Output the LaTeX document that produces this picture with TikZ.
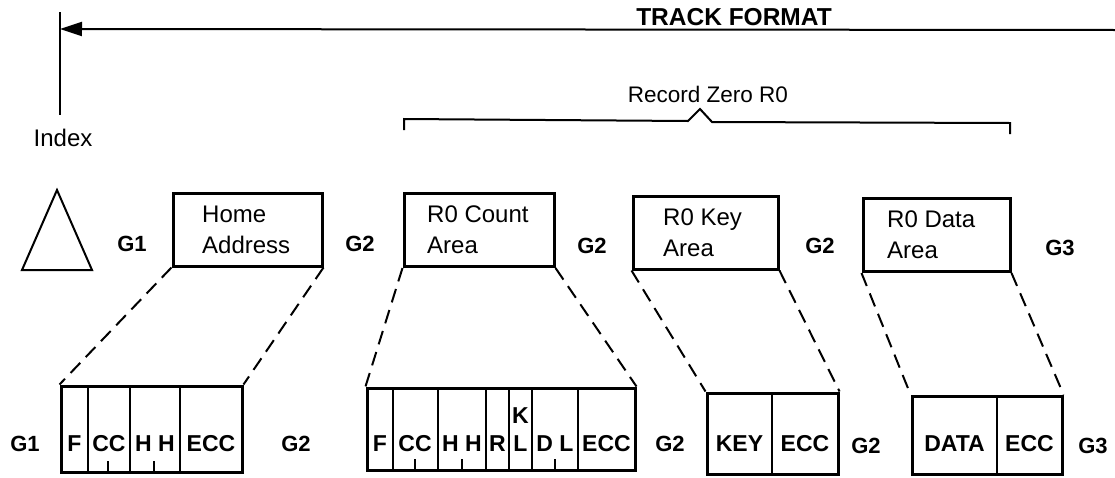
\documentclass[tikz,border=0pt]{standalone}
\usepackage{fontspec}
\setmainfont{Liberation Sans}
\usetikzlibrary{arrows.meta}
\begin{document}
\begin{tikzpicture}[x=1pt,y=-1pt,
  topbox/.style={draw,line width=3pt,minimum height=73pt,inner sep=0pt},
  fieldbox/.style={draw,line width=3pt,inner sep=0pt},
  conn/.style={line width=2pt,dash pattern=on 14pt off 8pt},
  divline/.style={line width=1.8pt},
  tick/.style={line width=1.8pt},
  boxtxt/.style={anchor=west,align=left,inner sep=0pt,font=\fontsize{24}{31}\selectfont},
  glab/.style={anchor=base,inner sep=0pt,font=\bfseries\fontsize{22}{24}\selectfont},
  flab/.style={anchor=base,inner sep=0pt,font=\bfseries\fontsize{23}{24}\selectfont},
]
\useasboundingbox (0,0) rectangle (1115,477);

% index and track format
\coordinate (idxTop) at (60,12);
\coordinate (idxBot) at (60,115);
\coordinate (idxArr) at (60,29);
\coordinate (trackR) at (1116,30);
\draw[line width=2pt] (idxTop) -- (idxBot);
\draw[line width=2pt,-{Triangle[length=22pt,width=14pt]}] (trackR) -- (idxArr);
\node[anchor=base,inner sep=0pt,font=\bfseries\fontsize{24.5}{26}\selectfont] (title) at (734,25) {TRACK FORMAT};
\node[inner sep=0pt,font=\fontsize{24}{26}\selectfont] (index) at (63,138) {Index};

% brace
\node[anchor=base,inner sep=0pt,font=\fontsize{22.5}{24}\selectfont] (rec) at (708,102) {Record Zero R0};
\draw[line width=2pt] (404,130) -- (404,119) -- (688,121) -- (700,109) -- (712,122) -- (1010,123) -- (1010,134);

% index marker
\draw[line width=2pt] (57,190) -- (92,270) -- (22,270) -- cycle;

% top row
\node[glab] (g1t) at (132,251) {G1};
\node[topbox,minimum width=149pt] (ha) at (247.5,229.5) {};
\node[boxtxt] (hat) at (202,229.5) {Home\\Address};
\node[glab] (g2a) at (360,251) {G2};
\node[topbox,minimum width=150pt] (cnt) at (479,230) {};
\node[boxtxt] (cntt) at (427,230) {R0 Count\\Area};
\node[glab] (g2b) at (592,253) {G2};
\node[topbox,minimum width=145pt] (key) at (705.5,232.5) {};
\node[boxtxt] (keyt) at (663,232.5) {R0 Key\\Area};
\node[glab] (g2c) at (820,253) {G2};
\node[topbox,minimum width=147pt] (dat) at (936.5,235) {};
\node[boxtxt] (datt) at (887,235) {R0 Data\\Area};
\node[glab] (g3t) at (1060,255) {G3};

% bottom row: home address fields
\node[glab] (g1b) at (25,451) {G1};
\node[fieldbox,minimum width=181pt,minimum height=86pt] (haf) at (151.5,429) {};
\draw[divline] (88,386) -- (88,472);
\draw[divline] (130,386) -- (130,472);
\draw[divline] (180,386) -- (180,472);
\node[flab] (hf1) at (74.5,451) {F};
\node[flab] (hf2) at (109,451) {CC};
\node[flab] (hf3) at (155,451) {H H};
\node[flab] (hf4) at (211,451) {ECC};
\draw[tick] (108,472) -- (108,461);
\draw[tick] (154,472) -- (154,461);
\node[glab] (g2d) at (296,451) {G2};

% count fields
\node[fieldbox,minimum width=268pt,minimum height=82pt] (cf) at (501,429) {};
\draw[divline] (393,388) -- (393,470);
\draw[divline] (438,388) -- (438,470);
\draw[divline] (486,388) -- (486,470);
\draw[divline] (509,388) -- (509,470);
\draw[divline] (532,388) -- (532,470);
\draw[divline] (578,388) -- (578,470);
\node[flab] (cf1) at (380,451) {F};
\node[flab] (cf2) at (415,451) {CC};
\node[flab] (cf3) at (462,451) {H H};
\node[flab] (cf4) at (497.5,451) {R};
\node[flab] (cf5k) at (520.5,423) {K};
\node[flab] (cf5) at (520.5,451) {L};
\node[flab] (cf6) at (555,451) {D L};
\node[flab] (cf7) at (606.5,451) {ECC};
\draw[tick] (415,470) -- (415,459);
\draw[tick] (462,470) -- (462,459);
\draw[tick] (555,470) -- (555,459);
\node[glab] (g2e) at (670,451) {G2};

% key fields
\node[fieldbox,minimum width=131pt,minimum height=81pt] (kf) at (772.5,433.5) {};
\draw[divline] (772,393) -- (772,474);
\node[flab] (kf1) at (739.5,451) {KEY};
\node[flab] (kf2) at (805,451) {ECC};
\node[glab] (g2f) at (866,453) {G2};

% data fields
\node[fieldbox,minimum width=150pt,minimum height=78pt] (df) at (987,435) {};
\draw[divline] (997,396) -- (997,474);
\node[flab] (df1) at (954.5,451) {DATA};
\node[flab] (df2) at (1029.5,451) {ECC};
\node[glab] (g3b) at (1093,453) {G3};

% dashed expansion lines
\draw[conn] (ha.south west) -- (haf.north west);
\draw[conn] (ha.south east) -- (haf.north east);
\draw[conn] (cnt.south west) -- (cf.north west);
\draw[conn] (cnt.south east) -- (cf.north east);
\draw[conn] (key.south west) -- (kf.north west);
\draw[conn] (key.south east) -- (kf.north east);
\draw[conn] (dat.south west) -- (df.north west);
\draw[conn] (dat.south east) -- (df.north east);
\end{tikzpicture}
\end{document}
